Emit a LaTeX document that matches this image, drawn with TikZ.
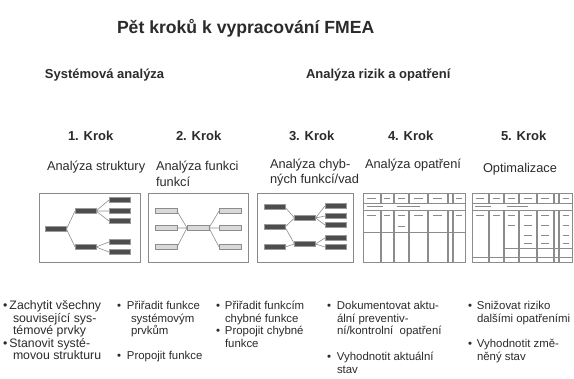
\documentclass[tikz,border=0pt]{standalone}
\usepackage{fontspec}
\setmainfont{Liberation Sans}
\definecolor{ink}{HTML}{2B2B2B}
\definecolor{frm}{HTML}{8A8A8A}
\definecolor{dfill}{HTML}{4D4D4D}
\definecolor{dline}{HTML}{9A9A9A}
\definecolor{lfill}{HTML}{D9D9D9}
\definecolor{lline}{HTML}{8C8C8C}
\definecolor{conn}{HTML}{8E8E8E}
\definecolor{tl}{HTML}{8C8C8C}
\definecolor{dsh}{HTML}{8A8A8A}
\begin{document}
\begin{tikzpicture}[x=1pt,y=-1pt,
  every node/.style={inner sep=0pt, outer sep=0pt, text=ink},
  ttl/.style={font=\fontsize{17.6}{20}\selectfont\bfseries, anchor=base west},
  hd/.style={font=\fontsize{13}{15}\selectfont\bfseries, anchor=base west},
  sub/.style={font=\fontsize{12.8}{14}\selectfont, anchor=base west},
  bl/.style={font=\fontsize{11.4}{12.7}\selectfont, anchor=base west},
  blw/.style={font=\fontsize{12.3}{12.7}\selectfont, anchor=base west},
  frame/.style={draw=frm, line width=0.7pt},
  dbar/.style={draw=dline, fill=dfill, line width=0.5pt, minimum width=21pt, minimum height=5pt},
  lbar/.style={draw=lline, fill=lfill, line width=0.5pt, minimum width=22pt, minimum height=5pt},
  cn/.style={draw=conn, line width=0.6pt},
  tline/.style={draw=tl, line width=0.4pt},
  dash line/.style={draw=dsh, line width=0.7pt}
]
\fill[white] (0,0) rectangle (574,379);
\useasboundingbox (0,0) rectangle (574,379);

% headings
\node[ttl] (title) at (117,34) {Pět kroků k vypracování FMEA};
\node[hd] (sysa) at (45,78.7) {Systémová analýza};
\node[hd] (risk) at (306,78.7) {Analýza rizik a opatření};

\node[hd] (k1) at (68,140.7) {1. Krok};
\node[hd] (k2) at (176,140.7) {2. Krok};
\node[hd] (k3) at (289,140.7) {3. Krok};
\node[hd] (k4) at (388,140.7) {4. Krok};
\node[hd] (k5) at (501,140.7) {5. Krok};

\node[sub] (s1) at (47,170.6) {Analýza struktury};
\node[sub] (s2a) at (156,170.6) {Analýza funkci};
\node[sub] (s2b) at (156,186.6) {funkcí};
\node[sub] (s3a) at (270,168.6) {Analýza chyb-};
\node[sub] (s3b) at (270,183.6) {ných funkcí/vad};
\node[sub] (s4) at (365,168.6) {Analýza opatření};
\node[sub] (s5) at (483,172.6) {Optimalizace};

% frames
\draw[frame] (39,193) rectangle (140,262);
\draw[frame] (148,193) rectangle (248,262);
\draw[frame] (257,193) rectangle (353,262);

% box 1 tree
\node[dbar] (a0) at (56,229) {};
\node[dbar] (a1) at (85.5,211) {};
\node[dbar] (a2) at (85.5,247) {};
\node[dbar] (a11) at (119.5,200) {};
\node[dbar] (a12) at (119.5,211) {};
\node[dbar] (a13) at (119.5,221) {};
\node[dbar] (a21) at (119.5,242) {};
\node[dbar] (a22) at (119.5,252) {};
\draw[cn] (a0.east) -- (a1.west) (a0.east) -- (a2.west);
\draw[cn] (a1.east) -- (a11.west) (a1.east) -- (a12.west) (a1.east) -- (a13.west);
\draw[cn] (a2.east) -- (a21.west) (a2.east) -- (a22.west);

% box 2 functions
\node[lbar] (b0) at (198,228) {};
\node[lbar] (bl1) at (166,211) {};
\node[lbar] (bl2) at (166,228) {};
\node[lbar] (bl3) at (166,247) {};
\node[lbar] (br1) at (230,211) {};
\node[lbar] (br2) at (230,228) {};
\node[lbar] (br3) at (230,247) {};
\draw[cn] (bl1.east) -- (b0.west) (bl2.east) -- (b0.west) (bl3.east) -- (b0.west);
\draw[cn] (b0.east) -- (br1.west) (b0.east) -- (br2.west) (b0.east) -- (br3.west);

% box 3 failures
\node[dbar] (c1) at (274.5,207) {};
\node[dbar] (c2) at (274.5,227) {};
\node[dbar] (c3) at (274.5,247) {};
\node[dbar] (cm1) at (305,218) {};
\node[dbar] (cm2) at (305,244) {};
\node[dbar] (cr1) at (335.5,206) {};
\node[dbar] (cr2) at (335.5,216) {};
\node[dbar] (cr3) at (335.5,225) {};
\node[dbar] (cr4) at (335.5,238) {};
\node[dbar] (cr5) at (335.5,247) {};
\draw[cn] (c1.east) -- (cm1.west) (c2.east) -- (cm1.west) (c2.east) -- (cm2.west) (c3.east) -- (cm2.west);
\draw[cn] (cm1.east) -- (cr1.west) (cm1.east) -- (cr2.west) (cm1.east) -- (cr3.west);
\draw[cn] (cm2.east) -- (cr4.west) (cm2.east) -- (cr5.west);

% box 4 table
\draw[tline] (363,193) rectangle (465,262);
\draw[tline] (363,203) -- (465,203) (363,210) -- (465,210) (363,232) -- (465,232);
\foreach \x in {380,393,408,427,447,452} {
  \draw[tline] (\x,193) -- (\x,203) (\x,210) -- (\x,262)
               (\x+1.6,193) -- (\x+1.6,203) (\x+1.6,210) -- (\x+1.6,262);
}
\foreach \a/\b in {363/380,381.6/393,394.6/408,409.6/427,428.6/447,453.6/465} {
  \draw[dash line] ({\a+0.25*(\b-\a)},198) -- ({\b-0.25*(\b-\a)},198);
  \draw[dash line] ({\a+0.25*(\b-\a)},215) -- ({\b-0.25*(\b-\a)},215);
}
\draw[dash line] (398,226) -- (405,226);
\draw[dash line] (367,206.5) -- (383,206.5) (397,206.5) -- (420,206.5);

% box 5 table
\draw[tline] (472,193) rectangle (572,262);
\draw[tline] (472,203) -- (572,203) (472,210) -- (572,210) (503,248) -- (572,248) (472,257) -- (572,257);
\foreach \x in {488,503,518,536,553,558} {
  \draw[tline] (\x,193) -- (\x,203) (\x,210) -- (\x,262)
               (\x+1.6,193) -- (\x+1.6,203) (\x+1.6,210) -- (\x+1.6,262);
}
\foreach \a/\b in {472/488,489.6/503,504.6/518,519.6/536,537.6/553,559.6/572} {
  \draw[dash line] ({\a+0.25*(\b-\a)},198) -- ({\b-0.25*(\b-\a)},198);
  \draw[dash line] ({\a+0.25*(\b-\a)},215) -- ({\b-0.25*(\b-\a)},215);
}
\draw[dash line] (508,225) -- (515,225);
\foreach \a/\b in {519.6/536,537.6/553,559.6/572} {
  \foreach \yy in {225,235,243} {
    \draw[dash line] ({\a+0.25*(\b-\a)},\yy) -- ({\b-0.25*(\b-\a)},\yy);
  }
}
\draw[dash line] (475,206.5) -- (491,206.5) (507,206.5) -- (528,206.5);

% bullets column 1
\node[blw] (p1a) at (3,310) {\makebox[6.5pt][l]{•}Zachytit všechny};
\node[blw] (p1b) at (13,322.5) {související sys-};
\node[blw] (p1c) at (13,335) {témové prvky};
\node[blw] (p1d) at (3,347.5) {\makebox[6.5pt][l]{•}Stanovit systé-};
\node[blw] (p1e) at (13,360) {movou strukturu};
% column 2
\node[bl] (p2a) at (117,310) {\makebox[10pt][l]{•}Přiřadit funkce};
\node[bl] (p2b) at (131,322.5) {systémovým};
\node[bl] (p2c) at (131,335) {prvkům};
\node[bl] (p2d) at (117,360) {\makebox[10pt][l]{•}Propojit funkce};
% column 3
\node[bl] (p3a) at (216,310) {\makebox[9pt][l]{•}Přiřadit funkcím};
\node[bl] (p3b) at (225,322.5) {chybné funkce};
\node[bl] (p3c) at (216,335) {\makebox[9pt][l]{•}Propojit chybné};
\node[bl] (p3d) at (225,347.5) {funkce};
% column 4
\node[bl] (p4a) at (327,310) {\makebox[10pt][l]{•}Dokumentovat aktu-};
\node[bl] (p4b) at (337,322.5) {ální preventiv-};
\node[bl] (p4c) at (337,335) {ní/kontrolní\ \ opatření};
\node[bl] (p4d) at (327,361) {\makebox[10pt][l]{•}Vyhodnotit aktuální};
\node[bl] (p4e) at (337,373.5) {stav};
% column 5
\node[bl] (p5a) at (468,310) {\makebox[9pt][l]{•}Snižovat riziko};
\node[bl] (p5b) at (477,322.5) {dalšími opatřeními};
\node[bl] (p5c) at (468,348) {\makebox[9pt][l]{•}Vyhodnotit změ-};
\node[bl] (p5d) at (477,360.5) {něný stav};
\end{tikzpicture}
\end{document}
